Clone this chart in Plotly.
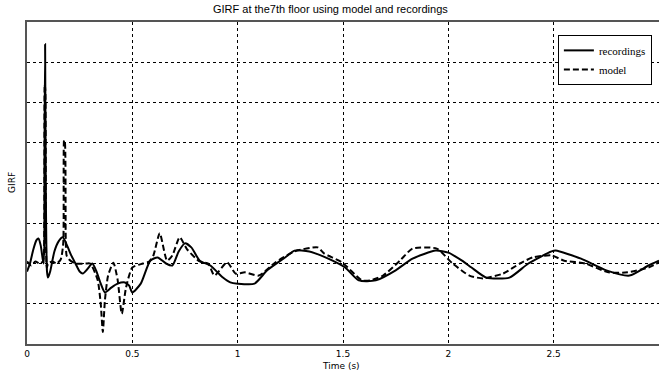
import plotly.graph_objects as go

# Recordings (solid)
t_rec = [0, 0.014, 0.03, 0.045, 0.054, 0.065, 0.075, 0.08, 0.083, 0.086, 0.089, 0.095, 0.10, 0.11,
         0.13, 0.15, 0.17, 0.19, 0.21, 0.23, 0.25, 0.265, 0.285, 0.31, 0.33, 0.35, 0.37, 0.40, 0.43,
         0.465, 0.485, 0.50, 0.54, 0.585, 0.62, 0.66, 0.69, 0.72, 0.75, 0.78, 0.82, 0.87, 0.93, 0.965,
         1.0, 1.08, 1.14, 1.225, 1.27, 1.34, 1.43, 1.51, 1.575, 1.656, 1.75, 1.83, 1.94, 2.0, 2.065,
         2.11, 2.18, 2.29, 2.38, 2.49, 2.51, 2.63, 2.75, 2.86, 2.95, 3.0]
v_rec = [-0.2, 0.0, 0.35, 0.58, 0.62, 0.45, 0.1, 0.0, 2.5, 5.45, 2.0, -0.2, -0.35, -0.2,
         0.3, 0.55, 0.65, 0.45, 0.2, 0.0, -0.2, -0.25, -0.15, 0.0, -0.2, -0.5, -0.72, -0.6, -0.5,
         -0.47, -0.55, -0.72, -0.5, 0.07, 0.15, 0.0, -0.05, 0.3, 0.5, 0.4, 0.07, -0.05, -0.35, -0.47,
         -0.5, -0.5, -0.17, 0.15, 0.32, 0.3, 0.12, -0.1, -0.42, -0.42, -0.17, 0.12, 0.32, 0.27, 0.07,
         -0.1, -0.35, -0.35, 0.0, 0.3, 0.32, 0.12, -0.17, -0.3, -0.05, 0.07]

# Model (dashed)
t_mod = [0, 0.02, 0.04, 0.06, 0.075, 0.08, 0.084, 0.087, 0.09, 0.094, 0.1, 0.12, 0.14, 0.16,
         0.172, 0.176, 0.18, 0.184, 0.188, 0.2, 0.23, 0.28, 0.30, 0.335, 0.35, 0.36, 0.37, 0.385,
         0.41, 0.43, 0.45, 0.47, 0.50, 0.55, 0.58, 0.60, 0.63, 0.665, 0.69, 0.725, 0.76, 0.82, 0.86,
         0.89, 0.95, 0.99, 1.035, 1.1, 1.18, 1.27, 1.38, 1.41, 1.495, 1.59, 1.63, 1.69, 1.77, 1.83,
         1.945, 2.02, 2.1, 2.165, 2.26, 2.34, 2.4, 2.49, 2.55, 2.65, 2.76, 2.85, 2.95, 3.0]
v_mod = [0.05, -0.05, 0.05, 0.0, 0.05, 0.2, 4.45, 4.3, 0.5, -0.1, 0.0, 0.05, 0.0, 0.1,
         0.5, 3.06, 3.0, 0.6, 0.2, 0.1, 0.0, 0.0, 0.0, -0.4, -1.0, -1.7, -0.9, -0.3,
         0.02, -0.4, -1.25, -0.6, -0.1, 0.0, 0.05, 0.2, 0.75, 0.07, 0.2, 0.65, 0.35, 0.05, 0.0,
         -0.3, 0.03, -0.25, -0.22, -0.3, 0.03, 0.3, 0.4, 0.25, 0.03, -0.42, -0.42, -0.3, 0.07, 0.37,
         0.37, 0.0, -0.3, -0.37, -0.25, 0.0, 0.15, 0.2, 0.07, 0.0, -0.22, -0.22, -0.1, 0.03]

x_ticks = [0, 0.5, 1, 1.5, 2, 2.5, 3]
x_tick_labels = ["0", "0.5", "1", "1.5", "2", "2.5", "3"]

fig = go.Figure()
fig.add_trace(go.Scatter(x=t_rec, y=v_rec, mode="lines", name="recordings",
                         line=dict(color="black", width=2, shape="spline", smoothing=0.6)))
fig.add_trace(go.Scatter(x=t_mod, y=v_mod, mode="lines", name="model",
                         line=dict(color="black", width=2, dash="6px,3px", shape="spline", smoothing=0.6)))

txt = dict(family="DejaVu Sans", size=9, color="black")
fig.update_layout(
    width=659, height=372,
    margin=dict(l=27, r=0, t=22, b=28, autoexpand=False),
    paper_bgcolor="white", plot_bgcolor="white",
    legend=dict(x=0.84, y=0.96, xanchor="left", yanchor="top", bgcolor="white",
                bordercolor="black", borderwidth=1, itemwidth=30, tracegroupgap=4,
                font=dict(family="Liberation Serif", size=11, color="black")),
    showlegend=True,
    annotations=[
        dict(text="GIRF at the7th floor using model and recordings", xref="paper", yref="paper",
             x=0.48, y=1.0, yshift=5, xanchor="center", yanchor="bottom", showarrow=False,
             font=dict(family="Liberation Sans", size=11, color="black")),
        dict(text="Time (s)", xref="paper", yref="paper", x=0.497, y=0, yshift=-22,
             xanchor="center", yanchor="middle", showarrow=False, font=txt),
        dict(text="GIRF", xref="paper", yref="paper", x=0, xshift=-15, y=0.5,
             xanchor="center", yanchor="middle", textangle=-90, showarrow=False, font=txt),
    ],
)
fig.update_xaxes(range=[0, 3], tickvals=x_ticks, ticktext=x_tick_labels, automargin=False,
                 showgrid=True, gridcolor="black", griddash="3px,3px", gridwidth=1,
                 showline=True, linecolor="#555", linewidth=1.5, mirror=True,
                 ticks="", zeroline=False, tickfont=txt)
fig.update_yaxes(range=[-2, 6], dtick=1, showticklabels=False, automargin=False,
                 showgrid=True, gridcolor="black", griddash="3px,3px", gridwidth=1,
                 showline=True, linecolor="#555", linewidth=1.5, mirror=True,
                 ticks="", zeroline=False)

# remove the page's default 8px body margin so the figure fills the window
fig.write_html("out.html", config={"displayModeBar": False},
               post_script="document.body.style.margin='0px';")
